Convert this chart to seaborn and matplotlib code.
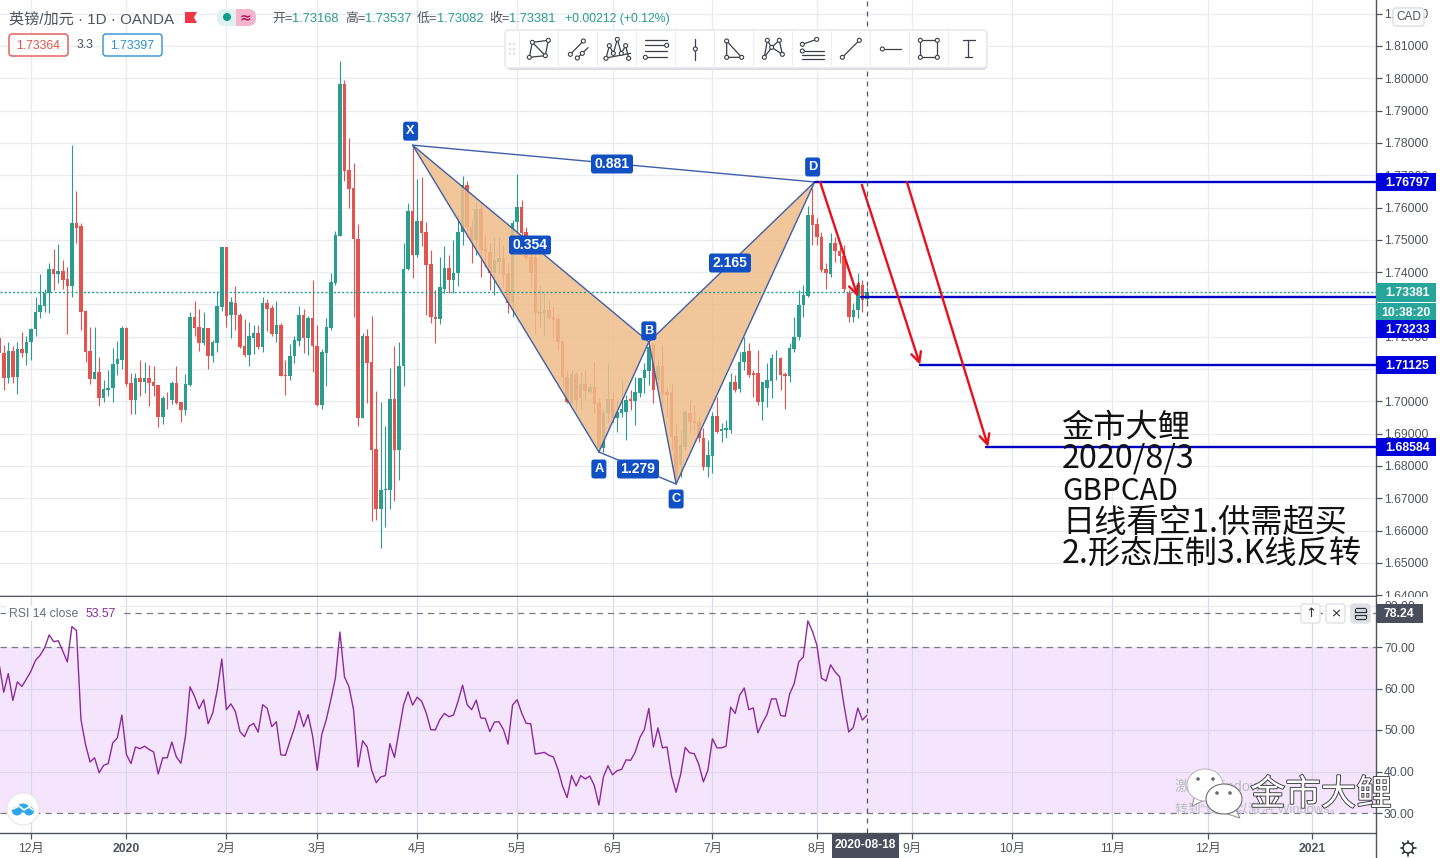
import numpy as np
import pandas as pd
import seaborn as sns
import matplotlib.pyplot as plt
from matplotlib.patches import Polygon, Rectangle, FancyBboxPatch, Circle, Ellipse
import matplotlib.patheffects as pe

# daily candles (first bar is left of the 12月 tick)
opens = [1.7195,1.7149,1.7072,1.7156,1.7074,1.7161,1.7149,1.7183,1.7223,1.7275,1.7296,1.7334,1.7411,1.7394,1.7403,1.7380,1.7357,1.7551,1.7542,1.7281,
         1.7156,1.7070,1.7090,1.7009,1.7035,1.7040,1.7114,1.7128,1.7227,1.7057,1.7004,1.7072,1.7061,1.7072,1.7059,1.7051,1.6952,1.7008,1.7003,1.7057,
         1.6998,1.6973,1.7050,1.7261,1.7231,1.7182,1.7228,1.7139,1.7182,1.7293,1.7478,1.7266,1.7304,1.7268,1.7172,1.7144,1.7197,1.7211,1.7167,1.7304,
         1.7290,1.7209,1.7237,1.7081,1.7079,1.7139,1.7188,1.7268,1.7197,1.7257,1.7172,1.6989,1.7151,1.7226,1.7367,1.7512,1.7982,1.7716,1.7659,1.7502,
         1.6949,1.7201,1.7122,1.6853,1.6667,1.6724,1.6726,1.7008,1.6850,1.7108,1.7411,1.7590,1.7453,1.7558,1.7525,1.7425,1.7262,1.7256,1.7349,1.7413,
         1.7377,1.7396,1.7523,1.7670,1.7541,1.7499,1.7594,1.7471,1.7463,1.7396,1.7432,1.7443,1.7396,1.7303,1.7556,1.7603,1.7525,1.7448,1.7448,1.7270,
         1.7274,1.7283,1.7262,1.7255,1.7188,1.7076,1.6994,1.7085,1.7009,1.7053,1.7028,1.7045,1.6994,1.6854,1.6963,1.7006,1.6947,1.6963,1.6968,1.7006,
         1.7002,1.7025,1.7071,1.7095,1.7174,1.7066,1.7109,1.7030,1.7028,1.6893,1.6803,1.6860,1.6965,1.6940,1.6937,1.6885,1.6798,1.6831,1.6953,1.6909,
         1.6911,1.6911,1.7061,1.7037,1.7123,1.7157,1.7089,1.7089,1.6999,1.7040,1.7064,1.7133,1.7133,1.7084,1.7079,1.7162,1.7198,1.7298,1.7327,1.7577,
         1.7548,1.7510,1.7409,1.7394,1.7489,1.7466,1.7450,1.7336,1.7260,1.7283,1.7360,1.73168]
highs = [1.7211,1.7175,1.7185,1.7170,1.7185,1.7214,1.7201,1.7226,1.7324,1.7395,1.7349,1.7427,1.7470,1.7486,1.7439,1.7416,1.7793,1.7651,1.7553,1.7283,
         1.7229,1.7229,1.7137,1.7066,1.7097,1.7166,1.7187,1.7234,1.7229,1.7087,1.7087,1.7128,1.7123,1.7113,1.7108,1.7051,1.7017,1.7030,1.7064,1.7110,
         1.6999,1.7085,1.7275,1.7309,1.7286,1.7276,1.7228,1.7190,1.7340,1.7478,1.7478,1.7324,1.7357,1.7273,1.7254,1.7247,1.7237,1.7237,1.7322,1.7316,
         1.7299,1.7309,1.7242,1.7128,1.7178,1.7201,1.7295,1.7285,1.7265,1.7376,1.7237,1.7161,1.7257,1.7396,1.7527,1.8053,1.7996,1.7816,1.7739,1.7549,
         1.7211,1.7223,1.7265,1.7032,1.6999,1.6924,1.7102,1.7172,1.7185,1.7489,1.7615,1.7793,1.7688,1.7695,1.7556,1.7468,1.7344,1.7447,1.7480,1.7453,
         1.7499,1.7576,1.7696,1.7682,1.7561,1.7618,1.7618,1.7515,1.7489,1.7510,1.7510,1.7484,1.7427,1.7561,1.7704,1.7623,1.7541,1.7468,1.7458,1.7360,
         1.7334,1.7314,1.7293,1.7267,1.7190,1.7097,1.7097,1.7090,1.7092,1.7097,1.7058,1.7123,1.7009,1.6973,1.7120,1.7030,1.7004,1.7066,1.7020,1.7035,
         1.7076,1.7071,1.7118,1.7180,1.7180,1.7128,1.7174,1.7045,1.7056,1.6932,1.6911,1.6973,1.7004,1.6989,1.6952,1.6916,1.6880,1.6968,1.7014,1.6932,
         1.6942,1.7087,1.7081,1.7154,1.7200,1.7180,1.7097,1.7159,1.7061,1.7118,1.7147,1.7159,1.7138,1.7092,1.7180,1.7262,1.7345,1.7360,1.7605,1.7659,
         1.7567,1.7525,1.7427,1.7520,1.7510,1.7479,1.7484,1.7345,1.7303,1.7396,1.7376,1.73537]
lows = [1.7123,1.7035,1.7056,1.7058,1.7023,1.7136,1.7113,1.7128,1.7201,1.7259,1.7275,1.7273,1.7344,1.7367,1.7349,1.7208,1.7324,1.7489,1.7222,1.7123,
        1.7054,1.7068,1.6986,1.6997,1.7015,1.6997,1.7082,1.7099,1.7046,1.6961,1.6961,1.7015,1.7025,1.6984,1.7015,1.6919,1.6930,1.6976,1.6992,1.6992,
        1.6937,1.6958,1.7048,1.7203,1.7156,1.7175,1.7099,1.7123,1.7154,1.7281,1.7231,1.7195,1.7221,1.7164,1.7136,1.7110,1.7146,1.7161,1.7154,1.7219,
        1.7201,1.7185,1.7077,1.7020,1.7066,1.7120,1.7170,1.7149,1.7144,1.7092,1.6984,1.6976,1.7048,1.7221,1.7360,1.7512,1.7683,1.7597,1.7262,1.6922,
        1.6949,1.6994,1.6628,1.6633,1.6547,1.6612,1.6667,1.6690,1.6755,1.7046,1.7406,1.7383,1.7447,1.7480,1.7267,1.7241,1.7179,1.7239,1.7334,1.7334,
        1.7334,1.7357,1.7484,1.7510,1.7427,1.7453,1.7386,1.7417,1.7345,1.7329,1.7396,1.7355,1.7274,1.7262,1.7520,1.7505,1.7438,1.7355,1.7208,1.7231,
        1.7205,1.7252,1.7200,1.7159,1.7045,1.6994,1.6989,1.6973,1.6973,1.7004,1.7025,1.6963,1.6844,1.6844,1.6932,1.6937,1.6906,1.6952,1.6880,1.6973,
        1.6927,1.7014,1.7025,1.7051,1.6994,1.7045,1.6989,1.6952,1.6849,1.6746,1.6767,1.6849,1.6906,1.6911,1.6875,1.6787,1.6767,1.6777,1.6901,1.6875,
        1.6885,1.6901,1.7030,1.7030,1.7097,1.7076,1.7014,1.6989,1.6942,1.6983,1.7009,1.7066,1.7035,1.6975,1.7061,1.7154,1.7190,1.7262,1.7324,1.7484,
        1.7484,1.7401,1.7347,1.7386,1.7432,1.7427,1.7339,1.7247,1.7247,1.7257,1.7278,1.73082]
closes = [1.7149,1.7072,1.7156,1.7074,1.7161,1.7149,1.7185,1.7223,1.7276,1.7299,1.7335,1.7411,1.7394,1.7403,1.7377,1.7357,1.7551,1.7538,1.7277,1.7154,
          1.7068,1.7090,1.7009,1.7039,1.7042,1.7116,1.7130,1.7228,1.7053,1.7004,1.7072,1.7061,1.7072,1.7058,1.7048,1.6952,1.7009,1.7006,1.7057,1.6994,
          1.6973,1.7054,1.7261,1.7227,1.7182,1.7228,1.7139,1.7185,1.7295,1.7478,1.7265,1.7306,1.7266,1.7167,1.7144,1.7201,1.7211,1.7167,1.7304,1.7287,
          1.7209,1.7237,1.7079,1.7079,1.7141,1.7190,1.7268,1.7197,1.7259,1.7170,1.6988,1.7154,1.7231,1.7370,1.7514,1.7982,1.7714,1.7658,1.7501,1.6949,
          1.7201,1.7120,1.6850,1.6667,1.6726,1.6728,1.7008,1.6850,1.7110,1.7411,1.7590,1.7453,1.7558,1.7522,1.7422,1.7260,1.7255,1.7354,1.7413,1.7377,
          1.7396,1.7523,1.7670,1.7541,1.7499,1.7594,1.7468,1.7463,1.7396,1.7438,1.7443,1.7391,1.7303,1.7551,1.7603,1.7520,1.7443,1.7396,1.7272,1.7278,
          1.7283,1.7257,1.7252,1.7185,1.7074,1.6999,1.7085,1.7004,1.7053,1.7032,1.7045,1.6992,1.6854,1.6963,1.7006,1.6947,1.6968,1.6975,1.7004,1.7002,
          1.7028,1.7071,1.7097,1.7169,1.7035,1.7109,1.7023,1.7020,1.6891,1.6767,1.6865,1.6968,1.6937,1.6934,1.6885,1.6798,1.6834,1.6953,1.6906,1.6914,
          1.6916,1.7061,1.7035,1.7123,1.7154,1.7081,1.7081,1.6999,1.7061,1.7066,1.7133,1.7135,1.7081,1.7079,1.7164,1.7200,1.7298,1.7329,1.7577,1.7546,
          1.7510,1.7407,1.7396,1.7489,1.7466,1.7450,1.7347,1.7262,1.7283,1.7360,1.7314,1.73381]
rsi_values = [65.8,59.1,63.6,57.1,61.6,60.5,62.3,64.2,66.8,68.0,69.8,72.9,71.3,71.5,69.0,66.4,74.9,74.0,52.5,46.5,
              42.3,43.3,39.7,41.5,41.9,46.9,48.1,53.6,44.1,41.9,45.9,45.5,46.1,45.3,44.7,39.4,43.3,43.3,47.1,43.5,
              42.0,48.5,60.4,58.1,55.1,57.3,51.5,54.1,59.7,67.1,54.9,56.3,54.4,49.6,48.4,50.9,51.6,49.5,56.1,55.2,
              50.8,52.0,44.0,43.9,47.3,50.5,54.6,50.8,53.7,48.5,40.3,48.9,52.5,57.3,62.5,73.6,62.8,60.4,54.9,41.1,
              47.4,45.9,40.3,37.3,38.7,39.0,46.7,43.4,49.7,56.0,59.2,56.0,57.9,56.9,54.1,50.1,50.0,52.5,54.0,53.2,
              53.6,56.9,60.8,56.1,54.9,57.2,52.9,52.8,49.6,51.9,52.0,50.1,46.6,56.0,57.3,54.1,51.6,51.5,44.2,44.4,
              44.6,43.9,43.5,40.5,36.5,33.7,39.0,36.5,39.0,38.2,38.9,36.6,31.9,38.7,41.4,39.2,40.2,40.5,42.8,42.7,
              44.7,48.1,50.1,55.2,45.9,50.5,45.7,45.9,38.9,35.0,39.3,45.8,44.5,44.3,41.7,37.5,40.3,47.9,45.7,45.7,
              46.1,55.5,54.0,58.4,60.1,54.9,55.3,49.3,51.7,53.7,57.5,57.5,53.5,53.3,58.7,61.2,66.4,67.6,76.3,73.8,
              70.4,62.5,61.8,65.7,64.0,62.8,55.7,49.5,50.6,55.3,52.4,53.57]

month_bars = [0,21,43,63,85,107,128,150,173,194,216,238,259,282]
month_labels = ["12月","2020","2月","3月","4月","5月","6月","7月","8月","9月","10月","11月","12月","2021"]
price_ticks = [1.64,1.65,1.66,1.67,1.68,1.69,1.70,1.71,1.72,1.73,1.74,1.75,1.76,1.77,1.78,1.79,1.80,1.81,1.82]
hidden_price_labels = [1.71,1.73]  # fully under the price boxes in the reference
rsi_ticks = [30,40,50,60,70,80]

# harmonic pattern X A B C D
pattern_names = ["X","A","B","C","D"]
pattern_bars = [84,125,136,142,172.5]
pattern_prices = [1.7793,1.6843,1.7184,1.6744,1.7679]
ratio_labels = ["0.881","0.354","1.279","2.165"]

level_prices = [1.76797,1.73233,1.71125,1.68584]
level_bars = [172.6,182.6,195.7,210.3]
level_names = ["1.76797","1.73233","1.71125","1.68584"]

arrow_from = [(173.7,1.7679),(182.9,1.7670),(192.8,1.7679)]
arrow_to = [(182.0,1.7323),(195.7,1.7113),(210.7,1.6859)]

last_close = 1.73381
crosshair_bar = 184
rsi_guide = 78.24

GREEN = "#2a9d8f"
RED = "#e2544f"
BLUE_LABEL = "#1150c4"
LEVEL = "#0000c8"
AXIS = "#50535e"
GRID = "#e9ebf0"
BAR_STEP = 4.543

sns.set_theme(style="white", rc={"axes.edgecolor": AXIS, "axes.linewidth": 1.0})
plt.rcParams["font.family"] = ["Liberation Sans", "Noto Sans CJK SC", "DejaVu Sans"]

df = pd.DataFrame({"open": opens, "high": highs, "low": lows, "close": closes, "rsi": rsi_values})
df["bar"] = np.arange(len(df)) - 7
df["up"] = df["close"] >= df["open"]
df["body_low"] = df[["open", "close"]].min(axis=1)
df["body"] = (df["open"] - df["close"]).abs().clip(lower=0.00012)

W, H = 1440, 858
fig = plt.figure(figsize=(14.4, 8.58), dpi=100, facecolor="white")
ax = fig.add_axes([0, (H - 596) / H, 1376 / W, 596 / H])
ax_rsi = fig.add_axes([0, (H - 833) / H, 1376 / W, (833 - 597) / H], sharex=ax)

# candles: wick first, body on top
for up, col in [(True, GREEN), (False, RED)]:
    part = df[df["up"] == up]
    ax.vlines(part["bar"], part["low"], part["high"], color=col, lw=0.8, zorder=2)
    sns.barplot(data=part, x="bar", y="body", bottom=part["body_low"].values, native_scale=True,
                color=col, saturation=1, width=0.78, errorbar=None, linewidth=0, ax=ax, zorder=3)

# pattern shading above the candles
px = dict(zip(pattern_names, zip(pattern_bars, pattern_prices)))
for tri in ["XAB", "BCD"]:
    ax.add_patch(Polygon([px[k] for k in tri], closed=True, facecolor="#efbd8b", alpha=0.86,
                         edgecolor="none", zorder=4))
for a, b in ["XA", "AB", "XB", "BC", "CD", "BD", "XD", "AC"]:
    ax.plot([px[a][0], px[b][0]], [px[a][1], px[b][1]], color="#3f5fa8", lw=1, zorder=5)

ax.axhline(last_close, color=GREEN, lw=1, ls=(0, (1.5, 1.5)), zorder=5)

# target levels and arrows
for lv, start in zip(level_prices, level_bars):
    ax.plot([start, 400], [lv, lv], color=LEVEL, lw=1.7, zorder=6)
for start, end in zip(arrow_from, arrow_to):
    ax.annotate("", xy=end, xytext=start, zorder=7,
                arrowprops=dict(arrowstyle="->,head_length=0.6,head_width=0.3", color="#e8101c", lw=1.7,
                                shrinkA=0, shrinkB=0))

# RSI panel
ax_rsi.axhspan(30, 70, color="#f4e5fd", lw=0, zorder=0)
sns.lineplot(data=df, x="bar", y="rsi", color="#8e2a9e", lw=1, ax=ax_rsi, zorder=3, errorbar=None)
for lv in [70, 30, rsi_guide]:
    ax_rsi.axhline(lv, color="#787b86", lw=0.9, ls=(0, (5, 4)), zorder=2)

for a in (ax, ax_rsi):
    a.axvline(crosshair_bar, color="#555963", lw=0.9, ls=(0, (4, 4)), zorder=8)
    for b in month_bars:
        a.axvline(b, color=GRID if a is ax else "#dcd6ea", lw=0.9, zorder=1)
    a.spines["top"].set_visible(False)
    a.spines["left"].set_visible(False)
    a.yaxis.tick_right()
    a.set_xlabel("")
    a.set_ylabel("")
    a.tick_params(axis="y", length=4, width=0.9, color=AXIS, labelsize=8.8, labelcolor=AXIS, pad=1.8, right=True)

for t in price_ticks:
    ax.axhline(t, color=GRID, lw=0.9, zorder=1)
for t in rsi_ticks[1:4]:
    ax_rsi.axhline(t, color="#e2d6ee", lw=0.9, zorder=1)
ax_rsi.axhline(80, color=GRID, lw=0.9, zorder=1)

ax.set_yticks(price_ticks, ["" if t in hidden_price_labels else f"{t:.5f}" for t in price_ticks])
ax_rsi.set_yticks(rsi_ticks, [f"{t:.2f}" for t in rsi_ticks])
ax_rsi.set_xticks(month_bars, month_labels)
ax.tick_params(axis="x", bottom=False, labelbottom=False)
ax_rsi.tick_params(axis="x", length=4, width=0.9, color=AXIS, labelsize=8.8, labelcolor=AXIS, pad=3.5, bottom=True)
for lab in ax_rsi.get_xticklabels():
    if lab.get_text() in ("2020", "2021"):
        lab.set_fontweight("bold")

ax.set_xlim(-31 / BAR_STEP, (1376 - 31) / BAR_STEP)
ax.set_ylim(1.81 - 550 / 3230, 1.81 + 46 / 3230)
ax_rsi.set_ylim(30 - 20 / 4.15, 70 + 50 / 4.15)

# overlay in pixels for the chart's interface pieces
ui = fig.add_axes([0, 0, 1, 1], zorder=10)
ui.set_xlim(0, W)
ui.set_ylim(H, 0)
ui.axis("off")
ui.patch.set_alpha(0)


def box(x0, y0, x1, y1, fc, ec="none", r=0.0, lw=1.0, z=1):
    style = f"round,pad=0,rounding_size={r}" if r else "square,pad=0"
    ui.add_patch(FancyBboxPatch((x0, y0), x1 - x0, y1 - y0, boxstyle=style, fc=fc, ec=ec, lw=lw, zorder=z))


def say(x, y, s, size=8.8, color=AXIS, ha="left", weight="normal", z=3, **kw):
    return ui.text(x, y + 1, s, fontsize=size, color=color, ha=ha, va="center", fontweight=weight, zorder=z, **kw)


# header
say(9, 18, "英镑/加元 · 1D · OANDA", size=10.9)
ui.add_patch(Polygon([(185, 12), (197, 12), (194, 17.5), (197, 23), (185, 23)], fc="#f23645", ec="none", zorder=3))
box(217, 9, 256, 26, "#dff2ee", r=8)
box(236, 9, 256, 26, "#f7b4ce", r=8)
ui.add_patch(Rectangle((236, 9), 6, 17, fc="#f7b4ce", ec="none", zorder=2))
ui.add_patch(Circle((227, 17), 4, fc="#0f9d8a", ec="none", zorder=3))
say(245, 16, "≈", size=10, color="#b01657", ha="center", weight="bold", family=["DejaVu Sans"])
for x, key, val in [(272, "开=", "1.73168"), (345, "高=", "1.73537"), (417, "低=", "1.73082"), (489, "收=", "1.73381")]:
    say(x, 18, key, size=9.3)
    say(x + 20, 18, val, size=9.3, color=GREEN)
say(565, 18, "+0.00212 (+0.12%)", size=8.8, color=GREEN)
box(9, 34, 68, 56, "white", ec="#e2544f", r=3)
say(38.5, 45, "1.73364", size=8.8, color="#e2544f", ha="center")
say(85, 44, "3.3", size=8.8, ha="center")
box(103, 34, 162, 56, "white", ec="#2f8fd0", r=3)
say(132.5, 45, "1.73397", size=8.8, color="#2f8fd0", ha="center")

# drawing toolbar
box(507, 32, 987, 70, "#d9dae0", r=4, z=1)
box(505, 30, 987, 68, "white", ec="#e4e5ea", r=4, z=2)
for zx in [58, 175, 292, 409, 526, 643, 760, 877, 994, 1111, 1228, 1345]:
    ui.plot([500 + zx / 3] * 2, [30, 68], color="#eceef2", lw=0.8, zorder=3)
for zx in [30, 42]:
    for zy in [57, 72, 87]:
        ui.add_patch(Circle((500 + zx / 3, 25 + zy / 3), 0.9, fc="#c9cbd3", ec="none", zorder=3))
tool_lines = [
    [(97, 52), (145, 46), (136, 92), (88, 97), (97, 52), (136, 92)],
    [(211, 88), (250, 48)], [(232, 99), (264, 68)],
    [(318, 100), (328, 62), (340, 85), (352, 43), (364, 85), (377, 62), (386, 100)], [(312, 100), (392, 85)],
    [(435, 45), (500, 45)], [(435, 61), (500, 61)], [(435, 79), (500, 79)], [(436, 97), (500, 97)],
    [(586, 42), (586, 105)],
    [(680, 48), (680, 97), (725, 97), (680, 48)],
    [(793, 97), (802, 46), (815, 67), (838, 46), (847, 88), (815, 67), (793, 97)],
    [(907, 58), (950, 43)], [(907, 78), (972, 78)], [(907, 90), (972, 90)], [(907, 103), (972, 103)],
    [(1027, 97), (1078, 46)],
    [(1147, 72), (1203, 72)],
    [(1261, 46), (1312, 46), (1312, 97), (1261, 97), (1261, 46)],
    [(1388, 45), (1424, 45)], [(1405, 45), (1405, 97)], [(1395, 97), (1415, 97)],
]
tool_dots = [(97, 52), (145, 46), (136, 92), (88, 97), (211, 88), (250, 48), (247, 85), (232, 99),
             (318, 100), (328, 62), (340, 85), (352, 43), (364, 85), (377, 62), (386, 100),
             (500, 61), (436, 97), (586, 72), (680, 48), (680, 97), (725, 97),
             (793, 97), (802, 46), (815, 67), (838, 46), (847, 88), (907, 58), (950, 43), (907, 78),
             (1027, 97), (1078, 46), (1147, 72), (1261, 46), (1312, 46), (1312, 97), (1261, 97)]
for seg in tool_lines:
    xs, ys = zip(*seg)
    ui.plot([500 + v / 3 for v in xs], [25 + v / 3 for v in ys], color="#3c3f49", lw=0.9, zorder=4)
for zx, zy in tool_dots:
    ui.add_patch(Circle((500 + zx / 3, 25 + zy / 3), 2, fc="white", ec="#3c3f49", lw=0.8, zorder=5))

# pattern labels
to_px = lambda bar, price: (31 + bar * BAR_STEP, (1.81 - price) * 3230 + 46)
for name, dy, dx in [("X", -14, -2), ("A", 17, 0), ("B", -11, 0), ("C", 15, 0), ("D", -15, -2)]:
    cx, cy = to_px(*px[name])
    box(cx + dx - 7.5, cy + dy - 9.5, cx + dx + 7.5, cy + dy + 9.5, BLUE_LABEL, r=2.5, z=4)
    say(cx + dx, cy + dy - 1, name, size=9.2, color="white", ha="center", weight="bold", z=5)
for (cx, cy), s in zip([(612, 164), (530, 245), (638, 469), (730, 263)], ratio_labels):
    box(cx - 21, cy - 9.5, cx + 21, cy + 9.5, BLUE_LABEL, r=2.5, z=4)
    say(cx, cy - 1, s, size=10, color="white", ha="center", weight="bold", z=5)

# price axis labels
for s, yc in zip(level_names, [182, 329, 365, 447]):
    box(1376, yc - 9, 1436, yc + 9, "#0000dc", z=4)
    say(1385, yc, s, size=8.8, color="white", weight="bold", z=5)
box(1376, 283, 1436, 301.5, "#26a69a", z=4)
say(1385, 292, "1.73381", size=8.8, color="white", weight="bold", z=5)
box(1376, 303, 1436, 320, "#26a69a", z=4)
say(1381, 312, "10:38:20", size=8.8, color="white", weight="bold", z=5)
box(1393, 8, 1424, 26, "white", ec="#dcdde3", r=3, z=4)
say(1408.5, 16, "CAD", size=8.5, ha="center", z=5)
box(1377, 597, 1440, 601, "white", z=2)

# RSI header and buttons
box(6, 606, 120, 621, "white", z=1)
say(9, 613, "RSI 14 close", size=8.8, color="#6a6d78")
say(85, 613, "53.57", size=8.8, color="#8e2a9e")
box(1376, 604, 1423, 623, "#4a4e5c", z=4)
say(1384, 613, "78.24", size=8.8, color="white", weight="bold", z=5)
for x0, fc, glyph in [(1301, "white", "↑"), (1326, "white", "×"), (1351, "#dfe0e5", "")]:
    box(x0, 604, x0 + 19, 623, fc, ec="#e0e1e6", r=3, z=4)
    if glyph:
        say(x0 + 9.5, 612.5, glyph, size=9.5, color="#2a2e39", ha="center", z=5, family=["DejaVu Sans"])
# restore button has no glyph in the installed fonts
for yy, ends in [(608, (1356, 1365)), (619, (1356, 1365)), (612, (1355, 1366)), (615, (1355, 1366))]:
    ui.plot(ends, [yy, yy], color="#2a2e39", lw=0.9, zorder=5)
for xx in (1355, 1366):
    ui.plot([xx, xx], [609, 612], color="#2a2e39", lw=0.9, zorder=5)
    ui.plot([xx, xx], [615, 618], color="#2a2e39", lw=0.9, zorder=5)

# logo on the RSI panel
ui.add_patch(Circle((23, 809), 16, fc="white", ec="#e4e6ec", lw=0.8, zorder=3))
for ox, oy, rx in [(17, 811, 5), (23, 808, 6), (29, 811, 5)]:
    ui.add_patch(Ellipse((ox, oy), 2 * rx, 9, fc="#2fa5ee", ec="none", zorder=4))
ui.plot([13, 19, 24, 29, 33], [809, 806, 810, 807, 810], color="white", lw=1.2, zorder=5)

# crosshair date, gear
box(832, 833, 899, 858, "#4a4e5c", z=4)
say(865.5, 844.5, "2020-08-18", size=8.6, color="white", ha="center", weight="bold", z=5)
ui.add_patch(Circle((1408, 848), 5, fc="white", ec="#2a2e39", lw=1, zorder=4))
for ang in np.arange(0, 360, 45):
    c, s = np.cos(np.radians(ang)), np.sin(np.radians(ang))
    ui.plot([1408 + 5 * c, 1408 + 7.5 * c], [848 + 5 * s, 848 + 7.5 * s], color="#2a2e39", lw=1.2, zorder=4)
ui.plot([1376, 1376], [833, 858], color=AXIS, lw=1, zorder=4)

# note text
note_lines = ["金市大鲤", "2020/8/3", "GBPCAD", "日线看空1.供需超买", "2.形态压制3.K线反转"]
note_sizes = [23.2, 23.2, 21.3, 23.2, 23.2]
for s, yc, fs in zip(note_lines, [427, 458, 490, 522, 553], note_sizes):
    say(1062, yc, s, size=fs, color="#111111", z=6, family=["Noto Sans CJK SC", "DejaVu Sans"])

# watermark
say(1175, 786, "激活 Windows", size=10.5, color="#bdbdc4", z=3)
say(1175, 808, "转到“设置”以激活 Windows。", size=9.3, color="#bdbdc4", z=3)
ui.add_patch(Polygon([(1195, 795), (1192, 806), (1205, 800)], fc="white", ec="#8e8e92", lw=0.7, zorder=4))
ui.add_patch(Ellipse((1205, 785), 36, 32, fc="white", ec="#b5b5b8", lw=0.7, zorder=5))
ui.add_patch(Polygon([(1215, 810), (1236, 810), (1240, 818)], fc="white", ec="#8e8e92", lw=0.7, zorder=6))
ui.add_patch(Ellipse((1224, 799), 36, 30, fc="white", ec="#6e6e72", lw=0.8, zorder=7))
for cx, cy, z in [(1198, 779, 6), (1213, 779, 6), (1217, 793, 8), (1230, 793, 8)]:
    ui.add_patch(Circle((cx, cy), 1.8, fc="#6a6a6e", ec="none", zorder=z))
mark = say(1250, 794, "金市大鲤", size=25.5, color="white", z=9, family=["Noto Sans CJK SC", "DejaVu Sans"])
mark.set_path_effects([pe.withStroke(linewidth=1.3, foreground="#3a3a40")])

fig.savefig("out.png", dpi=100)
